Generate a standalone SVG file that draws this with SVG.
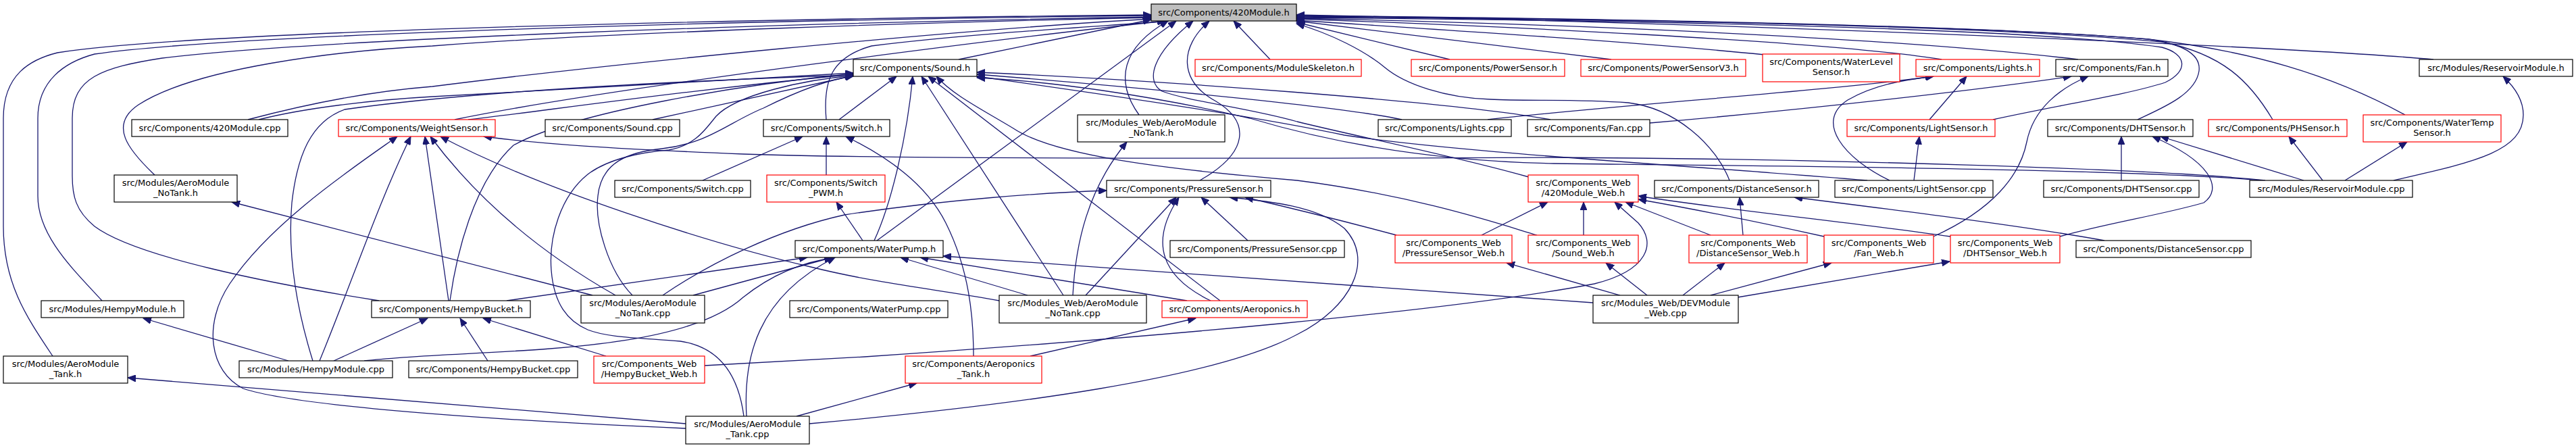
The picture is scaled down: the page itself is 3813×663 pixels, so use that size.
<svg xmlns="http://www.w3.org/2000/svg" width="3813" height="663" viewBox="0 0 3813 663">
<defs>
<marker id="a" markerWidth="13" markerHeight="10" refX="12" refY="5" orient="auto" markerUnits="userSpaceOnUse"><path d="M0,0 L12,5 L0,10 z" fill="#191970" stroke="#191970" stroke-width="1"/></marker>
</defs>
<style>
.n rect{fill:#fff;stroke:#000;stroke-width:1.2}
.r rect{stroke:#f00}
.top rect{fill:#bfbfbf}
text{font-family:"DejaVu Sans",sans-serif;font-size:13px;text-anchor:middle;fill:#000}
#edges path{fill:none;stroke:#191970;stroke-width:1.3;marker-end:url(#a)}
</style>
<rect width="3813" height="663" fill="#fff"/>
<g id="edges">
<path d="M78,527 C40,470 5,420 5,335 L5,175 C5,110 45,88 85,78 C300,45 1100,28 1704,22"/>
<path d="M151,445 C110,400 56,350 56,290 L56,175 C56,120 95,92 140,80 C350,50 1100,30 1704,23"/>
<path d="M561,445 C400,420 200,380 140,335 C112,312 107,290 107,260 L107,175 C107,115 150,100 240,86 C450,60 1100,35 1704,25"/>
<path d="M229,259 C190,222 160,185 205,155 C290,100 500,75 640,68 C900,48 1400,32 1704,26"/>
<path d="M367,177 C450,155 550,135 640,128 C900,95 1400,45 1704,28"/>
<path d="M383,177 C450,160 550,148 640,143 C900,128 1100,116 1263,108"/>
<path d="M673,177 C900,130 1500,55 1725,31"/>
<path d="M693,177 C800,165 1000,135 1263,110"/>
<path d="M966,177 L1263,112"/>
<path d="M1223,177 C1218,120 1230,85 1290,68 C1450,48 1650,38 1730,31"/>
<path d="M1242,177 L1327,113"/>
<path d="M1040,267 L1188,202"/>
<path d="M1223,259 L1223,202"/>
<path d="M1441,527 C1441,470 1435,400 1400,330 C1370,270 1310,230 1252,202"/>
<path d="M1294,356 C1320,300 1343,200 1351,113"/>
<path d="M1298,356 L1741,31"/>
<path d="M1277,356 L1238,299"/>
<path d="M463,534 C440,460 425,380 432,300 C440,230 460,180 510,162 C700,135 1000,120 1263,111"/>
<path d="M473,534 C520,420 560,300 608,202"/>
<path d="M427,534 L212,471"/>
<path d="M494,534 L633,471"/>
<path d="M539,534 C700,515 1000,530 1100,440 C1150,400 1200,386 1236,381"/>
<path d="M666,445 C675,380 700,270 760,215 C850,165 1100,125 1263,109"/>
<path d="M664,445 C655,380 640,280 629,202"/>
<path d="M750,445 L1195,381"/>
<path d="M722,534 L681,471"/>
<path d="M897,527 L715,471"/>
<path d="M1043,541 L1280,528 C1700,500 2150,460 2360,420 C2440,400 2452,360 2425,330 L2390,299"/>
<path d="M877,437 L343,299"/>
<path d="M911,437 Q740,340 637,202"/>
<path d="M936,437 C900,400 880,330 885,290 C890,240 930,225 980,220 C1050,212 1080,180 1130,160 C1170,140 1220,118 1263,113"/>
<path d="M1101,616 C1095,570 1075,515 1007,505 C950,500 900,500 870,488 C840,475 820,450 816,400 C812,350 830,290 870,258 C900,235 950,225 990,222 C1030,215 1045,190 1060,172 C1090,140 1190,118 1263,112"/>
<path d="M1105,616 C1100,530 1120,440 1236,381"/>
<path d="M1015,627 L189,559"/>
<path d="M1015,634 C800,625 450,605 360,575 C310,550 300,480 340,420 C400,330 520,250 588,202"/>
<path d="M1179,616 L1357,567"/>
<path d="M1198,627 C1500,600 1800,560 1920,495 C2000,455 2035,385 1990,338 C1950,305 1880,298 1820,292"/>
<path d="M1525,527 L1770,471"/>
<path d="M1574,437 L1364,113"/>
<path d="M1588,437 C1592,360 1610,280 1668,210"/>
<path d="M1607,437 L1741,292"/>
<path d="M1521,437 L1333,381"/>
<path d="M1479,445 C1400,430 1300,420 1200,395 C1050,360 800,280 652,202"/>
<path d="M1806,445 L1374,113"/>
<path d="M1792,445 C1720,410 1700,360 1745,292"/>
<path d="M1757,445 L1362,381"/>
<path d="M1847,356 L1778,292"/>
<path d="M2067,348 C2000,330 1920,310 1843,292"/>
<path d="M1776,267 C1850,225 1850,180 1800,150 C1745,120 1745,70 1790,31"/>
<path d="M1686,170 C1650,120 1660,70 1729,31"/>
<path d="M1419,88 L1704,29"/>
<path d="M1880,88 L1826,31"/>
<path d="M2146,88 L1919,33"/>
<path d="M2385,88 L1919,31"/>
<path d="M2560,267 C2540,215 2480,160 2410,152 C2330,146 2260,150 2206,147 C2140,145 2080,125 2050,100 C2020,75 1970,50 1919,35"/>
<path d="M2612,81 C2400,60 2100,42 1919,30"/>
<path d="M2874,88 C2700,60 2200,38 1919,28"/>
<path d="M3076,88 C2800,55 2300,35 1919,27"/>
<path d="M2950,177 C3050,155 3150,140 3205,122 C3240,105 3237,80 3200,70 C3000,40 2400,30 1919,26"/>
<path d="M3164,177 C3200,160 3250,140 3255,105 C3258,80 3230,65 3180,58 C2900,35 2300,28 1919,25"/>
<path d="M3364,177 C3330,120 3290,80 3200,62 C2900,35 2300,27 1919,24"/>
<path d="M3560,170 C3450,110 3330,75 3180,58 C2900,35 2300,27 1919,23"/>
<path d="M3602,88 C3400,70 2600,35 1919,22"/>
<path d="M2833,267 L2841,202"/>
<path d="M2797,267 C2730,235 2685,180 2735,148 C2775,125 2820,118 2862,113"/>
<path d="M2764,267 C2500,245 2150,225 1990,200 C1850,170 1600,135 1446,113"/>
<path d="M3349,267 C3150,250 2650,246 2300,242 C2100,238 1950,205 1850,175 C1700,140 1550,120 1446,115"/>
<path d="M2263,262 C2150,230 2000,200 1920,180 C1850,160 1760,150 1720,135 C1695,120 1705,80 1766,31"/>
<path d="M2075,177 C2000,160 1700,130 1446,110"/>
<path d="M2295,177 C2150,150 1700,118 1446,107"/>
<path d="M2856,177 L2911,113"/>
<path d="M2202,177 C2400,155 2700,135 2862,113"/>
<path d="M2442,182 C2700,160 2950,130 3066,113"/>
<path d="M2862,350 C2950,310 2990,260 3000,210 C3010,160 3050,130 3091,113"/>
<path d="M2580,348 L2575,292"/>
<path d="M3115,356 C3000,335 2800,310 2656,292"/>
<path d="M3049,350 C3120,330 3200,318 3262,300 C3290,280 3275,240 3186,202"/>
<path d="M3140,267 L3140,202"/>
<path d="M3410,267 L3198,202"/>
<path d="M3438,267 L3388,202"/>
<path d="M3471,267 L3563,210"/>
<path d="M3543,267 C3660,240 3735,225 3735,170 C3735,145 3718,125 3705,113"/>
<path d="M3353,267 C3200,250 2700,235 2300,233 C1800,235 1300,235 1100,228 C900,220 800,213 716,202"/>
<path d="M2398,437 L2230,389"/>
<path d="M2438,437 L2377,389"/>
<path d="M2491,437 L2553,389"/>
<path d="M2532,437 L2711,389"/>
<path d="M2572,440 L2886,387"/>
<path d="M2358,448 L1396,379"/>
<path d="M2193,348 L2291,299"/>
<path d="M2344,348 L2344,299"/>
<path d="M2532,348 L2406,299"/>
<path d="M2700,350 C2600,328 2500,308 2425,295"/>
<path d="M2887,350 C2750,330 2550,310 2425,290"/>
<path d="M2275,348 C2230,335 2100,290 1920,267 C1720,250 1560,230 1500,190 C1450,160 1410,140 1386,113"/>
<path d="M981,437 C1050,390 1150,340 1250,318 C1400,295 1550,285 1638,282"/>
<path d="M1026,437 L1232,381"/>
</g>
<g id="n0" class="n top"><rect x="1704" y="6" width="215" height="25"/><text x="1811.5" y="23">src/Components/420Module.h</text></g>
<g id="sound_h" class="n"><rect x="1263" y="88" width="183" height="25"/><text x="1354.5" y="105">src/Components/Sound.h</text></g>
<g id="moduleskeleton_h" class="n r"><rect x="1769" y="88" width="246" height="25"/><text x="1892" y="105">src/Components/ModuleSkeleton.h</text></g>
<g id="powersensor_h" class="n r"><rect x="2089" y="88" width="227" height="25"/><text x="2202.5" y="105">src/Components/PowerSensor.h</text></g>
<g id="powersensorv3_h" class="n r"><rect x="2340" y="88" width="244" height="25"/><text x="2462" y="105">src/Components/PowerSensorV3.h</text></g>
<g id="waterlevelsensor_h" class="n r"><rect x="2609" y="80" width="203" height="41"/><text x="2710.5" y="96">src/Components/WaterLevel</text><text x="2710.5" y="111">Sensor.h</text></g>
<g id="lights_h" class="n r"><rect x="2836" y="88" width="183" height="25"/><text x="2927.5" y="105">src/Components/Lights.h</text></g>
<g id="fan_h" class="n"><rect x="3043" y="88" width="166" height="25"/><text x="3126" y="105">src/Components/Fan.h</text></g>
<g id="reservoirmodule_h" class="n"><rect x="3581" y="88" width="227" height="25"/><text x="3694.5" y="105">src/Modules/ReservoirModule.h</text></g>
<g id="m420module_cpp" class="n"><rect x="195" y="177" width="231" height="25"/><text x="310.5" y="194">src/Components/420Module.cpp</text></g>
<g id="weightsensor_h" class="n r"><rect x="501" y="177" width="232" height="25"/><text x="617" y="194">src/Components/WeightSensor.h</text></g>
<g id="sound_cpp" class="n"><rect x="807" y="177" width="199" height="25"/><text x="906.5" y="194">src/Components/Sound.cpp</text></g>
<g id="switch_h" class="n"><rect x="1130" y="177" width="187" height="25"/><text x="1223.5" y="194">src/Components/Switch.h</text></g>
<g id="mw_aeronotank_h" class="n"><rect x="1595" y="170" width="218" height="40"/><text x="1704" y="186">src/Modules_Web/AeroModule</text><text x="1704" y="201">_NoTank.h</text></g>
<g id="lights_cpp" class="n"><rect x="2040" y="177" width="197" height="25"/><text x="2138.5" y="194">src/Components/Lights.cpp</text></g>
<g id="fan_cpp" class="n"><rect x="2261" y="177" width="181" height="25"/><text x="2351.5" y="194">src/Components/Fan.cpp</text></g>
<g id="lightsensor_h" class="n r"><rect x="2734" y="177" width="219" height="25"/><text x="2843.5" y="194">src/Components/LightSensor.h</text></g>
<g id="dhtsensor_h" class="n"><rect x="3031" y="177" width="215" height="25"/><text x="3138.5" y="194">src/Components/DHTSensor.h</text></g>
<g id="phsensor_h" class="n r"><rect x="3269" y="177" width="205" height="25"/><text x="3371.5" y="194">src/Components/PHSensor.h</text></g>
<g id="watertempsensor_h" class="n r"><rect x="3498" y="170" width="204" height="40"/><text x="3600" y="186">src/Components/WaterTemp</text><text x="3600" y="201">Sensor.h</text></g>
<g id="aeronotank_h" class="n"><rect x="169" y="259" width="182" height="40"/><text x="260" y="275">src/Modules/AeroModule</text><text x="260" y="290">_NoTank.h</text></g>
<g id="switch_cpp" class="n"><rect x="910" y="267" width="201" height="25"/><text x="1010.5" y="284">src/Components/Switch.cpp</text></g>
<g id="switch_pwm_h" class="n r"><rect x="1135" y="259" width="175" height="40"/><text x="1222.5" y="275">src/Components/Switch</text><text x="1222.5" y="290">_PWM.h</text></g>
<g id="pressuresensor_h" class="n"><rect x="1638" y="267" width="243" height="25"/><text x="1759.5" y="284">src/Components/PressureSensor.h</text></g>
<g id="m420module_web_h" class="n r"><rect x="2262" y="259" width="163" height="40"/><text x="2343.5" y="275">src/Components_Web</text><text x="2343.5" y="290">/420Module_Web.h</text></g>
<g id="distancesensor_h" class="n"><rect x="2449" y="267" width="243" height="25"/><text x="2570.5" y="284">src/Components/DistanceSensor.h</text></g>
<g id="lightsensor_cpp" class="n"><rect x="2716" y="267" width="234" height="25"/><text x="2833" y="284">src/Components/LightSensor.cpp</text></g>
<g id="dhtsensor_cpp" class="n"><rect x="3025" y="267" width="230" height="25"/><text x="3140" y="284">src/Components/DHTSensor.cpp</text></g>
<g id="reservoirmodule_cpp" class="n"><rect x="3330" y="267" width="241" height="25"/><text x="3450.5" y="284">src/Modules/ReservoirModule.cpp</text></g>
<g id="waterpump_h" class="n"><rect x="1177" y="356" width="219" height="25"/><text x="1286.5" y="373">src/Components/WaterPump.h</text></g>
<g id="pressuresensor_cpp" class="n"><rect x="1732" y="356" width="258" height="25"/><text x="1861" y="373">src/Components/PressureSensor.cpp</text></g>
<g id="pressuresensor_web_h" class="n r"><rect x="2065" y="348" width="173" height="41"/><text x="2151.5" y="364">src/Components_Web</text><text x="2151.5" y="379">/PressureSensor_Web.h</text></g>
<g id="sound_web_h" class="n r"><rect x="2262" y="348" width="163" height="41"/><text x="2343.5" y="364">src/Components_Web</text><text x="2343.5" y="379">/Sound_Web.h</text></g>
<g id="distancesensor_web_h" class="n r"><rect x="2500" y="348" width="175" height="41"/><text x="2587.5" y="364">src/Components_Web</text><text x="2587.5" y="379">/DistanceSensor_Web.h</text></g>
<g id="fan_web_h" class="n r"><rect x="2700" y="348" width="162" height="41"/><text x="2781" y="364">src/Components_Web</text><text x="2781" y="379">/Fan_Web.h</text></g>
<g id="dhtsensor_web_h" class="n r"><rect x="2887" y="348" width="162" height="41"/><text x="2968" y="364">src/Components_Web</text><text x="2968" y="379">/DHTSensor_Web.h</text></g>
<g id="distancesensor_cpp" class="n"><rect x="3073" y="356" width="259" height="25"/><text x="3202.5" y="373">src/Components/DistanceSensor.cpp</text></g>
<g id="hempymodule_h" class="n"><rect x="61" y="445" width="211" height="25"/><text x="166.5" y="462">src/Modules/HempyModule.h</text></g>
<g id="hempybucket_h" class="n"><rect x="550" y="445" width="235" height="25"/><text x="667.5" y="462">src/Components/HempyBucket.h</text></g>
<g id="aeronotank_cpp" class="n"><rect x="860" y="437" width="183" height="41"/><text x="951.5" y="453">src/Modules/AeroModule</text><text x="951.5" y="468">_NoTank.cpp</text></g>
<g id="waterpump_cpp" class="n"><rect x="1169" y="445" width="234" height="25"/><text x="1286" y="462">src/Components/WaterPump.cpp</text></g>
<g id="mw_aeronotank_cpp" class="n"><rect x="1479" y="437" width="218" height="41"/><text x="1588" y="453">src/Modules_Web/AeroModule</text><text x="1588" y="468">_NoTank.cpp</text></g>
<g id="aeroponics_h" class="n r"><rect x="1720" y="445" width="215" height="25"/><text x="1827.5" y="462">src/Components/Aeroponics.h</text></g>
<g id="devmodule_web_cpp" class="n"><rect x="2358" y="437" width="215" height="41"/><text x="2465.5" y="453">src/Modules_Web/DEVModule</text><text x="2465.5" y="468">_Web.cpp</text></g>
<g id="aerotank_h" class="n"><rect x="5" y="527" width="184" height="40"/><text x="97" y="543">src/Modules/AeroModule</text><text x="97" y="558">_Tank.h</text></g>
<g id="hempymodule_cpp" class="n"><rect x="354" y="534" width="227" height="25"/><text x="467.5" y="551">src/Modules/HempyModule.cpp</text></g>
<g id="hempybucket_cpp" class="n"><rect x="605" y="534" width="250" height="25"/><text x="730" y="551">src/Components/HempyBucket.cpp</text></g>
<g id="hempybucket_web_h" class="n r"><rect x="879" y="527" width="164" height="40"/><text x="961" y="543">src/Components_Web</text><text x="961" y="558">/HempyBucket_Web.h</text></g>
<g id="aeroponics_tank_h" class="n r"><rect x="1340" y="527" width="202" height="40"/><text x="1441" y="543">src/Components/Aeroponics</text><text x="1441" y="558">_Tank.h</text></g>
<g id="aerotank_cpp" class="n"><rect x="1015" y="616" width="183" height="41"/><text x="1106.5" y="632">src/Modules/AeroModule</text><text x="1106.5" y="647">_Tank.cpp</text></g>
</svg>
